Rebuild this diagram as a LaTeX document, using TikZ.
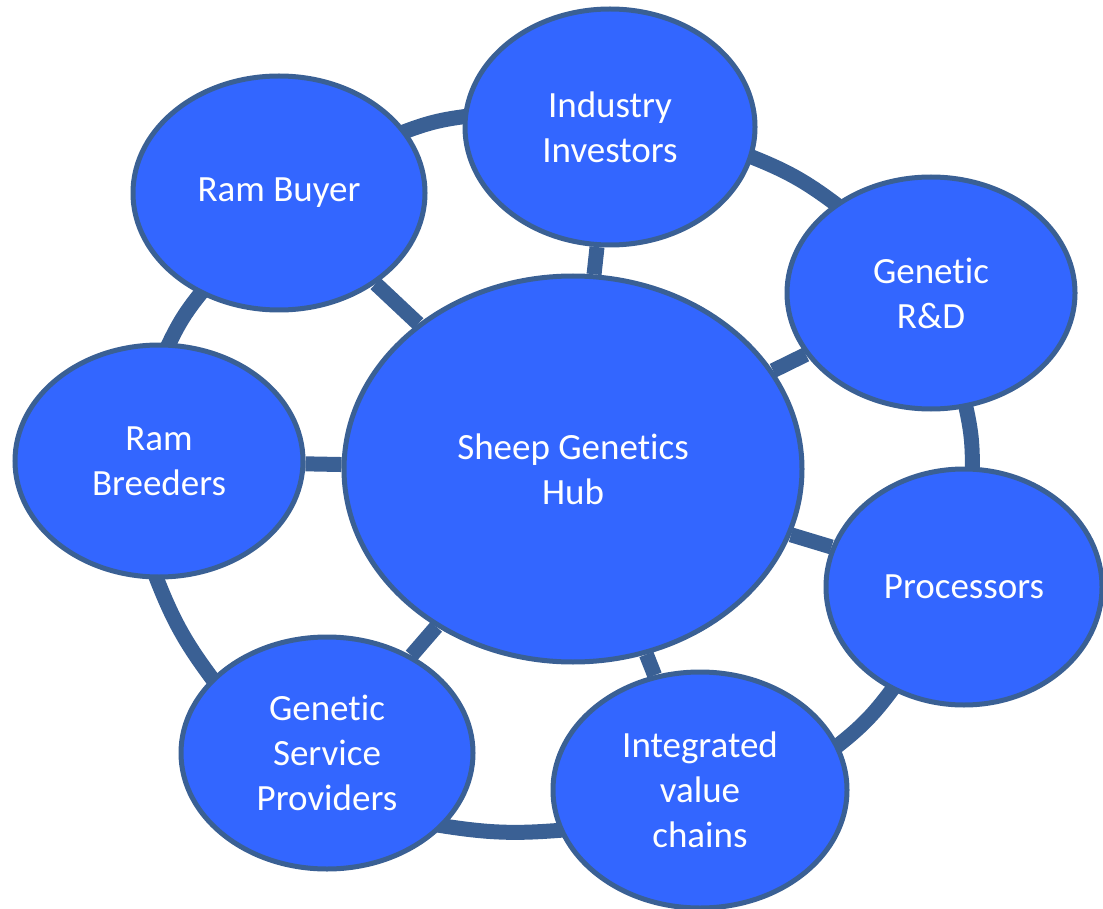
\documentclass[tikz,border=0pt]{standalone}
\usepackage{fontspec}
\setmainfont{Carlito}[Ligatures={NoCommon,NoRare,NoContextual},Contextuals=NoAlternate]
\usetikzlibrary{shapes.geometric,backgrounds}
\definecolor{hubfill}{HTML}{3366FF}
\definecolor{hubline}{HTML}{3A6094}
\begin{document}
\begin{tikzpicture}[x=1pt,y=-1pt,
  party/.style={ellipse,draw=hubline,line width=5pt,fill=hubfill,inner sep=0pt,
    text=white,align=center,font=\fontsize{37}{45}\selectfont},
  link/.style={draw=hubline,line width=15pt},
  ring/.style={link,shorten <=-8pt,shorten >=-8pt}]
\useasboundingbox (0,0) rectangle (1103,909);

% central hub
\node[party,minimum width=458pt,minimum height=386pt] (hub) at (573,469) {Sheep Genetics\\Hub};

% surrounding stakeholders
\node[party,minimum width=292pt,minimum height=234pt] (buyer)  at (279,193) {Ram Buyer};
\node[party,minimum width=290pt,minimum height=236pt] (invest) at (610,127) {Industry\\Investors};
\node[party,minimum width=288pt,minimum height=232pt] (rnd)    at (931,293) {Genetic\\R\&D};
\node[party,minimum width=276pt,minimum height=236pt] (proc)   at (964,587) {Processors};
\node[party,minimum width=294pt,minimum height=236pt] (chain)  at (700,790) {Integrated\\value\\chains};
\node[party,minimum width=292pt,minimum height=232pt] (serv)   at (327,753) {Genetic\\Service\\Providers};
\node[party,minimum width=288pt,minimum height=232pt] (breed)  at (159,461) {Ram\\Breeders};

\begin{scope}[on background layer]
  % spokes from the hub
  \foreach \n in {buyer,invest,rnd,proc,chain,serv,breed}
    \path[link] (hub) -- (\n);
  % outer ring joining neighbours
  \path[ring] (buyer.26.6)  to[bend left=7] (invest.176.4);
  \path[ring] (invest.-12.8) to[bend left=8] (rnd.137.6);
  \path[ring] (rnd.-73.8)   to[bend left=7] (proc.86.2);
  \path[ring] (proc.235.7)  to[bend left=8] (chain.18.4);
  \path[ring] (chain.196.3) to[bend left=7] (serv.-32.5);
  \path[ring] (serv.147.4)  to[bend left=8] (breed.269.5);
  \path[ring] (breed.85.6)  to[bend left=7] (buyer.232.2);
\end{scope}
\end{tikzpicture}
\end{document}
